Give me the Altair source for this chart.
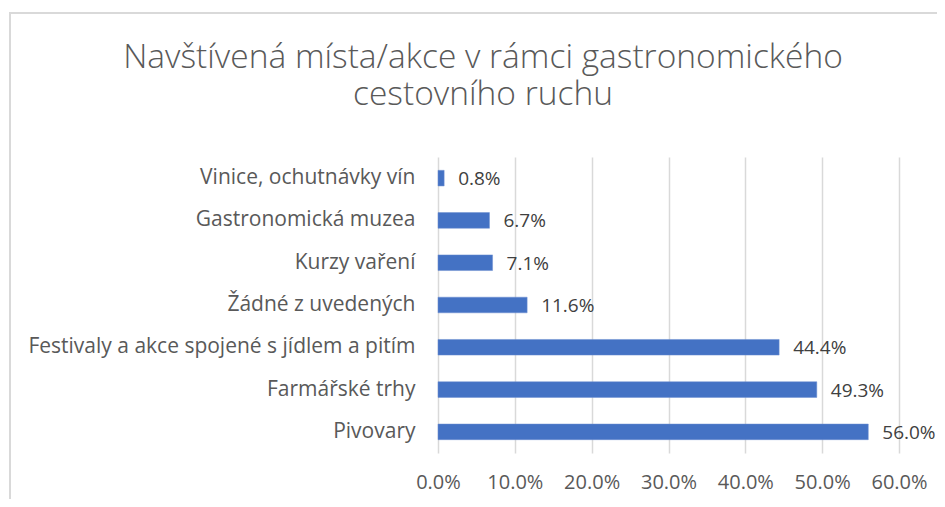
import altair as alt
import pandas as pd

title_lines = ["Navštívená místa/akce v rámci gastronomického", "cestovního ruchu"]
categories = [
    "Vinice, ochutnávky vín",
    "Gastronomická muzea",
    "Kurzy vaření",
    "Žádné z uvedených",
    "Festivaly a akce spojené s jídlem a pitím",
    "Farmářské trhy",
    "Pivovary",
]
values = [0.008, 0.067, 0.071, 0.116, 0.444, 0.493, 0.560]
x_ticks = [0, 0.1, 0.2, 0.3, 0.4, 0.5, 0.6]

df = pd.DataFrame({"cat": categories, "val": values})
df["label"] = [f"{v*100:.1f}%" for v in values]

FONT = "Open Sans"
GRAY = "#595959"

y_enc = alt.Y("cat:N", sort=categories, title=None,
              scale=alt.Scale(paddingInner=0.63, paddingOuter=0.315),
              axis=alt.Axis(domain=False, ticks=False, labelPadding=23,
                            labelFontSize=21, labelColor=GRAY, labelFont=FONT,
                            labelLimit=500))

bars = alt.Chart(df).mark_bar(color="#4472C4", stroke="#6d8fd0", strokeWidth=0.5).encode(
    x=alt.X("val:Q", title=None,
            scale=alt.Scale(domain=[0, 0.6], nice=False),
            axis=alt.Axis(values=x_ticks, format=".1%", domain=False, ticks=False,
                          grid=True, gridColor="#d9d9d9", gridWidth=1.5,
                          labelFontSize=20, labelColor=GRAY, labelFont=FONT,
                          labelPadding=19, labelFlush=False)),
    y=y_enc,
)

texts = alt.Chart(df).mark_text(align="left", baseline="middle", dx=14, dy=1,
                                fontSize=19, font=FONT, color="#404040").encode(
    x="val:Q",
    y=alt.Y("cat:N", sort=categories),
    text="label:N",
)

border = alt.Chart(df).mark_rect(fill=None, stroke="#d9d9d9", strokeWidth=1.5).encode(
    x=alt.value(-428), x2=alt.value(560), y=alt.value(-144), y2=alt.value(400)
)

title = alt.Chart(df.head(1)).mark_text(
    align="center", baseline="alphabetic", fontSize=33.5, font=FONT, fontWeight=300,
    color=GRAY, lineHeight=37,
).encode(x=alt.value(45), y=alt.value(-89), text=alt.value(title_lines))

chart = alt.layer(border, bars, texts, title).properties(
    width=461,
    height=296,
    autosize=alt.AutoSizeParams(type="none"),
    padding={"left": 430, "top": 149, "right": 38, "bottom": 46},
).configure_view(stroke=None)

chart.save("out.html", embed_options={"renderer": "svg", "actions": False})
